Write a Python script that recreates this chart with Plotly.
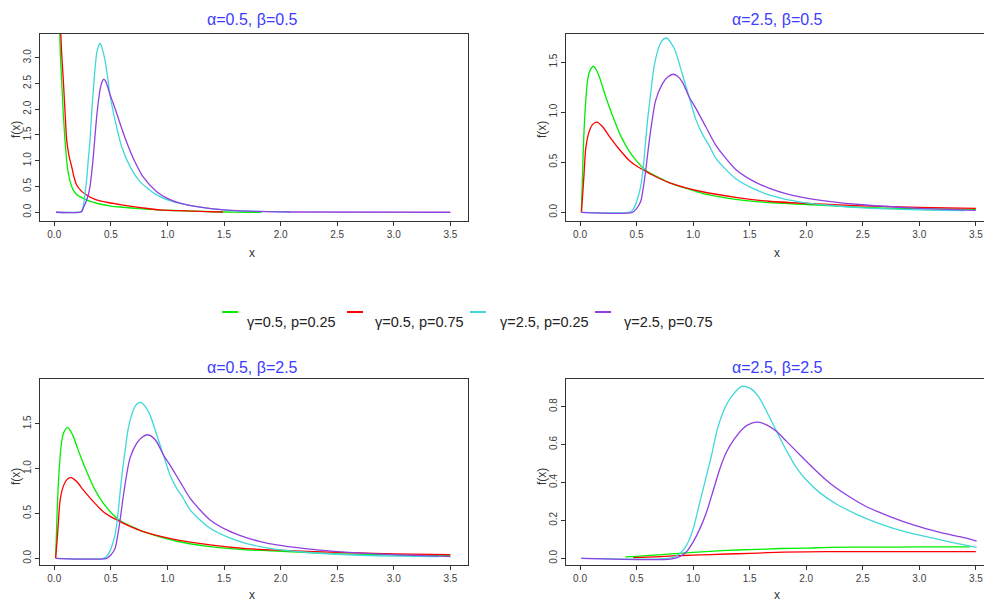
import plotly.graph_objects as go

W, H = 984, 602

# ---------------- data ----------------
series_names = ["γ=0.5, p=0.25", "γ=0.5, p=0.75", "γ=2.5, p=0.25", "γ=2.5, p=0.75"]
series_colors = ["#00ee00", "#ff0000", "#40d8d8", "#9040e0"]
panel_titles = ["α=0.5, β=0.5", "α=2.5, β=0.5", "α=0.5, β=2.5", "α=2.5, β=2.5"]
x_ticks = [0.0, 0.5, 1.0, 1.5, 2.0, 2.5, 3.0, 3.5]

# panel alpha=0.5, beta=0.5
tl_green_x = [0.048, 0.055, 0.065, 0.08, 0.095, 0.11, 0.124, 0.145, 0.168, 0.2, 0.256, 0.32, 0.40, 0.5, 0.61, 0.75, 0.905, 1.1, 1.3, 1.49, 1.7, 1.83]
tl_green_y = [3.6, 3.0, 2.57, 1.9, 1.40, 1.0, 0.76, 0.56, 0.43, 0.34, 0.27, 0.21, 0.16, 0.12, 0.097, 0.07, 0.045, 0.03, 0.015, 0.005, 0.0, 0.0]
tl_red_x = [0.055, 0.065, 0.08, 0.095, 0.11, 0.13, 0.154, 0.175, 0.198, 0.24, 0.286, 0.36, 0.463, 0.55, 0.64, 0.78, 0.935, 1.1, 1.35, 1.49]
tl_red_y = [3.6, 3.1, 2.57, 1.95, 1.40, 1.1, 0.885, 0.68, 0.53, 0.41, 0.336, 0.25, 0.194, 0.16, 0.128, 0.085, 0.045, 0.03, 0.012, 0.005]
tl_cyan_x = [0.015, 0.22, 0.24, 0.256, 0.27, 0.286, 0.30, 0.316, 0.33, 0.345, 0.36, 0.375, 0.39, 0.404, 0.42, 0.448, 0.47, 0.49, 0.537, 0.596, 0.67, 0.758, 0.905, 1.05, 1.26, 1.49, 1.7, 2.09]
tl_cyan_y = [0.0, 0.0, 0.02, 0.11, 0.33, 0.63, 1.0, 1.40, 1.9, 2.37, 2.78, 3.09, 3.22, 3.28, 3.20, 2.96, 2.65, 2.31, 1.79, 1.27, 0.885, 0.594, 0.336, 0.206, 0.109, 0.045, 0.02, 0.01]
tl_purple_x = [0.015, 0.23, 0.245, 0.256, 0.28, 0.30, 0.316, 0.33, 0.345, 0.36, 0.375, 0.39, 0.404, 0.42, 0.435, 0.45, 0.47, 0.49, 0.52, 0.55, 0.60, 0.65, 0.70, 0.787, 0.905, 1.0, 1.11, 1.35, 1.61, 1.8, 2.1, 3.5]
tl_purple_y = [0.0, 0.0, 0.02, 0.08, 0.2, 0.33, 0.50, 0.75, 1.08, 1.48, 1.86, 2.15, 2.37, 2.52, 2.58, 2.56, 2.45, 2.30, 2.12, 1.93, 1.60, 1.30, 1.04, 0.68, 0.40, 0.27, 0.175, 0.078, 0.03, 0.015, 0.005, 0.0]

# panels alpha=2.5, beta=0.5 and alpha=0.5, beta=2.5 (identical curves)
mid_green_x = [0.012, 0.02, 0.027, 0.035, 0.044, 0.055, 0.065, 0.08, 0.095, 0.118, 0.14, 0.168, 0.2, 0.227, 0.286, 0.36, 0.433, 0.507, 0.58, 0.70, 0.787, 1.082, 1.377, 1.67, 1.966, 2.5, 3.0, 3.5]
mid_green_y = [0.0, 0.3, 0.56, 0.8, 1.0, 1.18, 1.30, 1.39, 1.43, 1.46, 1.43, 1.36, 1.25, 1.154, 0.968, 0.763, 0.614, 0.503, 0.42, 0.345, 0.297, 0.19, 0.13, 0.097, 0.08, 0.05, 0.037, 0.03]
mid_red_x = [0.012, 0.025, 0.035, 0.05, 0.074, 0.11, 0.148, 0.198, 0.256, 0.345, 0.433, 0.49, 0.58, 0.64, 0.787, 1.082, 1.377, 1.67, 1.966, 2.5, 3.0, 3.5]
mid_red_y = [0.0, 0.2, 0.37, 0.63, 0.78, 0.875, 0.90, 0.856, 0.763, 0.632, 0.52, 0.47, 0.41, 0.372, 0.297, 0.205, 0.149, 0.11, 0.09, 0.065, 0.05, 0.04]
mid_cyan_x = [0.012, 0.433, 0.463, 0.49, 0.515, 0.537, 0.56, 0.58, 0.60, 0.625, 0.654, 0.70, 0.73, 0.764, 0.80, 0.846, 0.905, 0.964, 1.023, 1.082, 1.14, 1.2, 1.288, 1.377, 1.524, 1.67, 1.82, 1.966, 2.2, 2.5, 3.0, 3.4]
mid_cyan_y = [0.0, 0.0, 0.02, 0.074, 0.16, 0.26, 0.46, 0.71, 0.95, 1.19, 1.45, 1.657, 1.72, 1.74, 1.70, 1.60, 1.378, 1.154, 0.93, 0.78, 0.67, 0.54, 0.428, 0.335, 0.241, 0.174, 0.13, 0.10, 0.07, 0.045, 0.025, 0.018]
mid_purple_x = [0.012, 0.463, 0.5, 0.537, 0.56, 0.58, 0.60, 0.625, 0.669, 0.729, 0.773, 0.823, 0.86, 0.905, 0.964, 1.023, 1.111, 1.2, 1.288, 1.377, 1.524, 1.67, 1.82, 1.966, 2.2, 2.5, 3.0, 3.5]
mid_purple_y = [0.0, 0.0, 0.037, 0.11, 0.25, 0.41, 0.60, 0.82, 1.117, 1.285, 1.348, 1.378, 1.36, 1.30, 1.154, 1.04, 0.856, 0.67, 0.54, 0.428, 0.316, 0.241, 0.186, 0.149, 0.11, 0.075, 0.04, 0.02]

# panel alpha=2.5, beta=2.5
br_green_x = [0.40, 0.5, 0.75, 1.0, 1.3, 1.5, 1.77, 2.0, 2.2, 2.6, 3.0, 3.45]
br_green_y = [0.008, 0.01, 0.021, 0.032, 0.042, 0.046, 0.052, 0.054, 0.058, 0.059, 0.06, 0.061]
br_red_x = [0.47, 0.6, 0.825, 1.0, 1.3, 1.5, 1.65, 1.8, 2.18, 2.6, 3.0, 3.5]
br_red_y = [0.004, 0.006, 0.013, 0.017, 0.023, 0.026, 0.03, 0.033, 0.035, 0.035, 0.035, 0.035]
br_cyan_x = [0.01, 0.81, 0.884, 0.943, 1.002, 1.061, 1.12, 1.164, 1.209, 1.267, 1.341, 1.43, 1.503, 1.577, 1.65, 1.739, 1.828, 1.916, 2.005, 2.122, 2.27, 2.446, 2.652, 2.889, 3.124, 3.33, 3.507]
br_cyan_y = [0.0, 0.003, 0.026, 0.07, 0.158, 0.30, 0.44, 0.545, 0.668, 0.774, 0.853, 0.906, 0.897, 0.853, 0.774, 0.668, 0.565, 0.475, 0.41, 0.345, 0.285, 0.232, 0.182, 0.138, 0.106, 0.079, 0.058]
br_purple_x = [0.01, 0.80, 0.884, 0.943, 1.002, 1.061, 1.12, 1.179, 1.238, 1.297, 1.37, 1.444, 1.518, 1.577, 1.65, 1.739, 1.828, 1.945, 2.063, 2.21, 2.358, 2.535, 2.741, 2.947, 3.183, 3.36, 3.507]
br_purple_y = [0.0, -0.004, 0.01, 0.036, 0.088, 0.158, 0.246, 0.36, 0.475, 0.563, 0.633, 0.686, 0.712, 0.718, 0.703, 0.668, 0.615, 0.545, 0.475, 0.396, 0.334, 0.272, 0.22, 0.176, 0.137, 0.114, 0.091]

tl_yticks = [0.0, 0.5, 1.0, 1.5, 2.0, 2.5, 3.0]
tr_yticks = [0.0, 0.5, 1.0, 1.5]
bl_yticks = [0.0, 0.5, 1.0, 1.5]
br_yticks = [0.0, 0.2, 0.4, 0.6, 0.8]

# ---------------- layout helpers (window pixels -> paper) ----------------
def px(x):
    return x / W

def py(y):
    return 1 - y / H

panels = [
    ([(tl_green_x, tl_green_y), (tl_red_x, tl_red_y), (tl_cyan_x, tl_cyan_y), (tl_purple_x, tl_purple_y)],
     [40, 468, 34, 221], [-0.126, 3.656], [-0.17, 3.46], tl_yticks, True),
    ([(mid_green_x, mid_green_y), (mid_red_x, mid_red_y), (mid_cyan_x, mid_cyan_y), (mid_purple_x, mid_purple_y)],
     [566, 984, 34, 221], [-0.124, 3.572], [-0.087, 1.78], tr_yticks, False),
    ([(mid_green_x, mid_green_y), (mid_red_x, mid_red_y), (mid_cyan_x, mid_cyan_y), (mid_purple_x, mid_purple_y)],
     [40, 468, 379, 565], [-0.126, 3.656], [-0.075, 2.0], bl_yticks, True),
    ([(br_green_x, br_green_y), (br_red_x, br_red_y), (br_cyan_x, br_cyan_y), (br_purple_x, br_purple_y)],
     [566, 984, 379, 565], [-0.124, 3.572], [-0.035, 0.945], br_yticks, False),
]

fig = go.Figure()
axis_col = "#333333"
FONT = "Liberation Sans, Arial, sans-serif"
tick_font = dict(family=FONT, size=10, color="#404040")
layout = dict(
    width=W, height=H, margin=dict(l=0, r=0, t=0, b=0),
    paper_bgcolor="white", plot_bgcolor="white", showlegend=False,
)
annotations = []
shapes = []
title_centers = [(252, 20), (777, 20), (252, 367), (777, 367)]
xlab_pos = [(252, 253), (777, 253), (252, 595), (777, 595)]
ylab_pos = [(16, 130), (542, 130), (16, 477), (542, 477)]

for i, (series, box, xr, yr, yt, mirror_y) in enumerate(panels):
    n = i + 1
    xa = "x" if n == 1 else f"x{n}"
    ya = "y" if n == 1 else f"y{n}"
    for k, (sx, sy) in enumerate(series):
        fig.add_trace(go.Scatter(x=sx, y=sy, mode="lines", xaxis=xa, yaxis=ya,
                                 line=dict(color=series_colors[k], width=1.3, shape="spline", smoothing=0.7),
                                 name=series_names[k], showlegend=False, hoverinfo="skip"))
    l, r, t, b = box
    layout[f"xaxis{'' if n == 1 else n}"] = dict(
        domain=[px(l), min(1, px(r))], range=xr, anchor=ya, tickvals=x_ticks, tickformat=".1f",
        showgrid=False, zeroline=False, showline=True, mirror=True, linecolor=axis_col, linewidth=1,
        ticks="outside", ticklen=4, tickcolor=axis_col, tickwidth=1, tickfont=tick_font, automargin=False,
    )
    layout[f"yaxis{'' if n == 1 else n}"] = dict(
        domain=[py(b), py(t)], range=yr, anchor=xa, tickvals=yt, tickformat=".1f", tickangle=-90,
        showgrid=False, zeroline=False, showline=True, mirror=mirror_y, linecolor=axis_col, linewidth=1,
        ticks="outside", ticklen=4, tickcolor=axis_col, tickwidth=1, tickfont=tick_font, automargin=False,
    )
    cx, cy = title_centers[i]
    annotations.append(dict(text=panel_titles[i], x=px(cx), y=py(cy), xref="paper", yref="paper",
                            showarrow=False, xanchor="center", yanchor="middle",
                            font=dict(family=FONT, size=16, color="#3c3cff")))
    lx, ly = xlab_pos[i]
    annotations.append(dict(text="x", x=px(lx), y=py(ly), xref="paper", yref="paper",
                            showarrow=False, xanchor="center", yanchor="middle",
                            font=dict(family=FONT, size=12, color="#333333")))
    fx, fy = ylab_pos[i]
    annotations.append(dict(text="f(x)", x=px(fx), y=py(fy), xref="paper", yref="paper", textangle=-90,
                            showarrow=False, xanchor="center", yanchor="middle",
                            font=dict(family=FONT, size=12, color="#333333")))

# legend drawn in the middle band
legend_line_x = [222, 347, 470, 595]
legend_text_x = [245, 373, 498, 622]
for k in range(4):
    shapes.append(dict(type="line", xref="paper", yref="paper",
                       x0=px(legend_line_x[k]), x1=px(legend_line_x[k] + 16), y0=py(312), y1=py(312),
                       line=dict(color=series_colors[k], width=2)))
    annotations.append(dict(text=series_names[k], x=px(legend_text_x[k]), y=py(322), xref="paper", yref="paper",
                            showarrow=False, xanchor="left", yanchor="middle",
                            font=dict(family=FONT, size=14.5, color="#222222")))

layout["annotations"] = annotations
layout["shapes"] = shapes
fig.update_layout(**layout)
fig.write_html("out.html",
               config={"displayModeBar": False},
               post_script="document.body.style.margin='0';document.body.style.overflow='hidden';")
